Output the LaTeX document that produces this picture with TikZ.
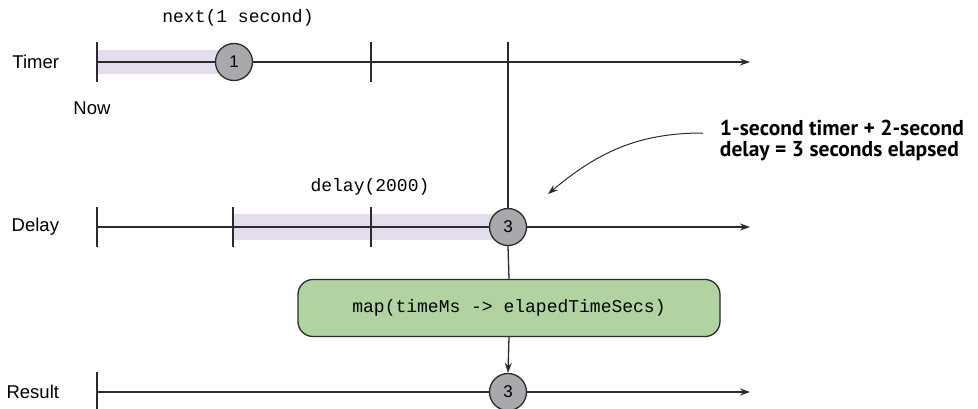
\documentclass[tikz,border=0pt]{standalone}
\usepackage{fontspec}
\setmainfont{Liberation Sans}
\newfontfamily\monofont{Liberation Mono}
\newfontfamily\notefont{PT Sans}
\usepackage{tikz}
\usetikzlibrary{positioning,arrows.meta,calc}

\definecolor{linec}{HTML}{2B2B2B}
\definecolor{evgray}{HTML}{A7A9AC}
\definecolor{opgreen}{HTML}{B1D3A1}
\definecolor{bandpurple}{HTML}{E4DDEE}

\begin{document}
\begin{tikzpicture}[x=1pt,y=-1pt,>={Stealth[length=10pt,width=7pt]},
  line width=1.3pt, draw=linec,
  lbl/.style={font=\fontsize{18.5}{20}\selectfont},
  code/.style={font=\monofont\fontsize{18}{20}\selectfont},
  ev/.style={draw=linec,fill=evgray,circle,minimum size=37pt,inner sep=0pt,
    font=\fontsize{17}{18}\selectfont},
  op/.style={draw=linec,fill=opgreen,rounded corners=15pt,
    minimum width=422pt,minimum height=57pt,font=\monofont\fontsize{18}{20}\selectfont},
  band/.style={fill=bandpurple},
  note/.style={font=\notefont\bfseries\fontsize{21.5}{21}\selectfont,align=left}]
  \useasboundingbox (0,0) rectangle (978,408);
  % time lines
  \coordinate (tS) at (97,62);  \coordinate (tE) at (750,62);
  \coordinate (dS) at (97,227); \coordinate (dE) at (750,227);
  \coordinate (rS) at (97,392); \coordinate (rE) at (750,392);
  % shaded waits
  \fill[band] (97,50) rectangle (234,74);
  \fill[band] (233,214) rectangle (508,240);
  \draw[->] (tS) -- (tE);
  \draw[->] (dS) -- (dE);
  \draw[->] (rS) -- (rE);
  % ticks
  \foreach \t in {97,371} \draw (\t,42) -- (\t,82);
  \foreach \t in {97,233,371} \draw (\t,207) -- (\t,247);
  \draw (97,372) -- (97,412);
  \node[lbl,left=34pt of tS](timer){Timer};
  \node[lbl,left=34pt of dS](delay){Delay};
  \node[lbl,left=34pt of rS](result){Result};
  \node[lbl] (now) at (92,108) {Now};
  % events
  \node[ev] (e1) at (234,62) {1};
  \node[ev] (e3) at (508,227) {3};
  \node[op] (map) at (509,308) {map(timeMs -> elapedTimeSecs)};
  \node[ev] (r3) at (508,392) {3};
  \node[code] (nxt) at (238,18) {next(1 second)};
  \node[code] (dly) at (370,187) {delay(2000)};
  \coordinate (top) at (508,42);
  \draw (top) -- (e3.north);
  \draw (e3.south) -- (map.north);
  \draw[->] (map.south) -- (r3.north);
  % callout
  \node[note,anchor=west] (txt) at (716,141) {1-second timer + 2-second\\delay = 3 seconds elapsed};
  \coordinate (cA) at (703,133);
  \coordinate (cB) at (548,194);
  \draw[->,line width=1pt] (cA) to[out=180,in=40] (cB);
\end{tikzpicture}
\end{document}
